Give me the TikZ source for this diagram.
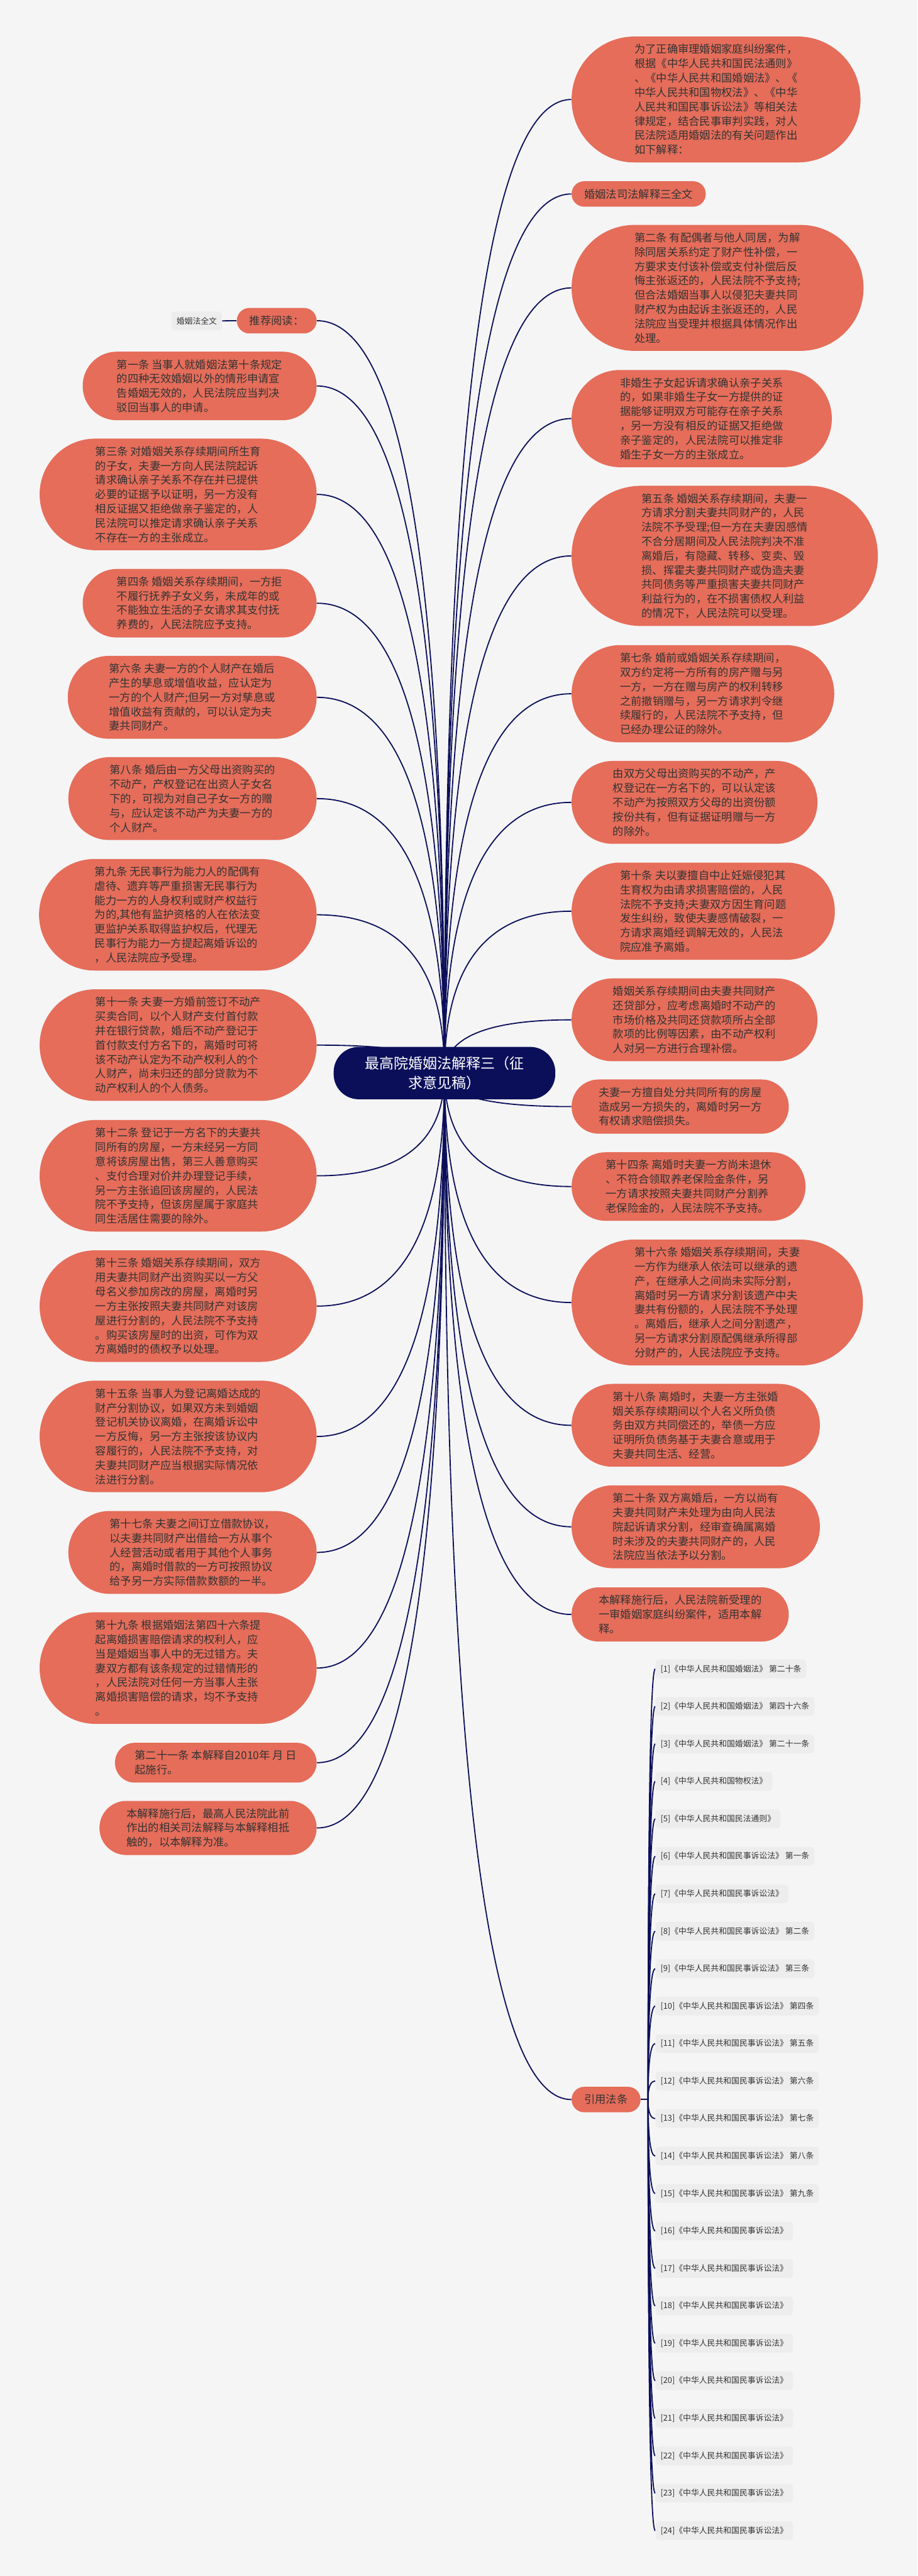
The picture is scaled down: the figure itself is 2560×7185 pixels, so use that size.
\documentclass[tikz,border=0pt]{standalone}
\usepackage{fontspec}
\setmainfont{Noto Sans CJK SC}
\usetikzlibrary{calc,backgrounds}
\definecolor{bgc}{HTML}{F5F5F5}
\definecolor{salmon}{HTML}{E56D5A}
\definecolor{navy}{HTML}{0B0F5A}
\definecolor{txt}{HTML}{333333}
\definecolor{citefill}{HTML}{EDEDED}
\newcommand\bodyfont{\fontsize{8.62pt}{11.38pt}\selectfont}
\newcommand\citefont{\fontsize{6.4pt}{8pt}\selectfont}
\newcommand\conlink[2]{\draw[conn] (#1.center) .. controls ($(#1.center)!0.667!(#1.center|-#2)$) and ($(#2)!0.667!(#1.center|-#2)$) .. (#2);}
\tikzset{
  leaf/.style={fill=salmon, text=txt, font=\bodyfont, align=left, inner ysep=0pt,
    minimum height={#1*0.4cm+0.31cm}, inner xsep={#1*0.2cm+0.155cm},
    rounded corners={#1*0.2cm+0.15cm}},
  rnode/.style={leaf=#1, anchor=west},
  lnode/.style={leaf=#1, anchor=east},
  cite/.style={fill=citefill, text=txt, font=\citefont, anchor=west, inner xsep=0.14cm,
    inner ysep=0pt, minimum height=0.52cm, rounded corners=0.1cm},
  lbl/.style={fill=citefill, text=txt, font=\citefont, minimum width=1.4cm,
    minimum height=0.52cm, rounded corners=0.08cm, inner sep=0pt},
  root/.style={fill=navy, text=white, font=\fontsize{11.5pt}{15.65pt}\selectfont, align=center,
    minimum width=6.18cm, minimum height=1.46cm, rounded corners=0.7cm, inner sep=0pt},
  conn/.style={draw=navy, line width=0.032cm}
}
\begin{document}
\begin{tikzpicture}[x=0.01cm, y=-0.01cm]
\begin{pgfonlayer}{background}
\fill[bgc] (0,0) rectangle (2560,7185);
\end{pgfonlayer}
\useasboundingbox (0,0) rectangle (2560,7185);

\node[root] (C) at (1240,2993) {最高院婚姻法解释三（征\\求意见稿）};

% right side
\node[rnode=8] (R1) at (1594,277.5) {为了正确审理婚姻家庭纠纷案件，\\根据《中华人民共和国民法通则》\\、《中华人民共和国婚姻法》、《\\中华人民共和国物权法》、《中华\\人民共和国民事诉讼法》等相关法\\律规定，结合民事审判实践，对人\\民法院适用婚姻法的有关问题作出\\如下解释：};
\node[rnode=1] (R2) at (1594,541) {婚姻法司法解释三全文};
\node[rnode=8] (R3) at (1594,803) {第二条 有配偶者与他人同居，为解\\除同居关系约定了财产性补偿，一\\方要求支付该补偿或支付补偿后反\\悔主张返还的，人民法院不予支持;\\但合法婚姻当事人以侵犯夫妻共同\\财产权为由起诉主张返还的，人民\\法院应当受理并根据具体情况作出\\处理。};
\node[rnode=6] (R4) at (1594,1167.5) {非婚生子女起诉请求确认亲子关系\\的，如果非婚生子女一方提供的证\\据能够证明双方可能存在亲子关系\\，另一方没有相反的证据又拒绝做\\亲子鉴定的，人民法院可以推定非\\婚生子女一方的主张成立。};
\node[rnode=9] (R5) at (1594,1550.5) {第五条 婚姻关系存续期间，夫妻一\\方请求分割夫妻共同财产的，人民\\法院不予受理;但一方在夫妻因感情\\不合分居期间及人民法院判决不准\\离婚后，有隐藏、转移、变卖、毁\\损、挥霍夫妻共同财产或伪造夫妻\\共同债务等严重损害夫妻共同财产\\利益行为的，在不损害债权人利益\\的情况下，人民法院可以受理。};
\node[rnode=6] (R6) at (1594,1935) {第七条 婚前或婚姻关系存续期间，\\双方约定将一方所有的房产赠与另\\一方，一方在赠与房产的权利转移\\之前撤销赠与，另一方请求判令继\\续履行的，人民法院不予支持，但\\已经办理公证的除外。};
\node[rnode=5] (R7) at (1594,2238) {由双方父母出资购买的不动产，产\\权登记在一方名下的，可以认定该\\不动产为按照双方父母的出资份额\\按份共有，但有证据证明赠与一方\\的除外。};
\node[rnode=6] (R8) at (1594,2541.5) {第十条 夫以妻擅自中止妊娠侵犯其\\生育权为由请求损害赔偿的，人民\\法院不予支持;夫妻双方因生育问题\\发生纠纷，致使夫妻感情破裂，一\\方请求离婚经调解无效的，人民法\\院应准予离婚。};
\node[rnode=5] (R9) at (1594,2844.5) {婚姻关系存续期间由夫妻共同财产\\还贷部分，应考虑离婚时不动产的\\市场价格及共同还贷款项所占全部\\款项的比例等因素，由不动产权利\\人对另一方进行合理补偿。};
\node[rnode=3] (R10) at (1594,3086.5) {夫妻一方擅自处分共同所有的房屋\\造成另一方损失的，离婚时另一方\\有权请求赔偿损失。};
\node[rnode=4] (R11) at (1594,3309.5) {第十四条 离婚时夫妻一方尚未退休\\、不符合领取养老保险金条件，另\\一方请求按照夫妻共同财产分割养\\老保险金的，人民法院不予支持。};
\node[rnode=8] (R12) at (1594,3633) {第十六条 婚姻关系存续期间，夫妻\\一方作为继承人依法可以继承的遗\\产，在继承人之间尚未实际分割，\\离婚时另一方请求分割该遗产中夫\\妻共有份额的，人民法院不予处理\\。离婚后，继承人之间分割遗产，\\另一方请求分割原配偶继承所得部\\分财产的，人民法院应予支持。};
\node[rnode=5] (R13) at (1594,3975.5) {第十八条 离婚时，夫妻一方主张婚\\姻关系存续期间以个人名义所负债\\务由双方共同偿还的，举债一方应\\证明所负债务基于夫妻合意或用于\\夫妻共同生活、经营。};
\node[rnode=5] (R14) at (1594,4258.5) {第二十条 双方离婚后，一方以尚有\\夫妻共同财产未处理为由向人民法\\院起诉请求分割，经审查确属离婚\\时未涉及的夫妻共同财产的，人民\\法院应当依法予以分割。};
\node[rnode=3] (R15) at (1594,4503) {本解释施行后，人民法院新受理的\\一审婚姻家庭纠纷案件，适用本解\\释。};
\node[rnode=1] (R16) at (1594,5856) {引用法条};

% left side
\node[lnode=1] (L0) at (884,894.5) {推荐阅读：};
\node[lbl] (W) at (549,895) {婚姻法全文};
\node[lnode=4] (L1) at (884,1076.5) {第一条 当事人就婚姻法第十条规定\\的四种无效婚姻以外的情形申请宣\\告婚姻无效的，人民法院应当判决\\驳回当事人的申请。};
\node[lnode=7] (L2) at (884,1379) {第三条 对婚姻关系存续期间所生育\\的子女，夫妻一方向人民法院起诉\\请求确认亲子关系不存在并已提供\\必要的证据予以证明，另一方没有\\相反证据又拒绝做亲子鉴定的，人\\民法院可以推定请求确认亲子关系\\不存在一方的主张成立。};
\node[lnode=4] (L3) at (884,1682.5) {第四条 婚姻关系存续期间，一方拒\\不履行抚养子女义务，未成年的或\\不能独立生活的子女请求其支付抚\\养费的，人民法院应予支持。};
\node[lnode=5] (L4) at (884,1945) {第六条 夫妻一方的个人财产在婚后\\产生的孳息或增值收益，应认定为\\一方的个人财产;但另一方对孳息或\\增值收益有贡献的，可以认定为夫\\妻共同财产。};
\node[lnode=5] (L5) at (884,2227.5) {第八条 婚后由一方父母出资购买的\\不动产，产权登记在出资人子女名\\下的，可视为对自己子女一方的赠\\与，应认定该不动产为夫妻一方的\\个人财产。};
\node[lnode=7] (L6) at (884,2551.5) {第九条 无民事行为能力人的配偶有\\虐待、遗弃等严重损害无民事行为\\能力一方的人身权利或财产权益行\\为的,其他有监护资格的人在依法变\\更监护关系取得监护权后，代理无\\民事行为能力一方提起离婚诉讼的\\，人民法院应予受理。};
\node[lnode=7] (L7) at (884,2915) {第十一条 夫妻一方婚前签订不动产\\买卖合同，以个人财产支付首付款\\并在银行贷款，婚后不动产登记于\\首付款支付方名下的，离婚时可将\\该不动产认定为不动产权利人的个\\人财产，尚未归还的部分贷款为不\\动产权利人的个人债务。};
\node[lnode=7] (L8) at (884,3279.5) {第十二条 登记于一方名下的夫妻共\\同所有的房屋，一方未经另一方同\\意将该房屋出售，第三人善意购买\\、支付合理对价并办理登记手续，\\另一方主张追回该房屋的，人民法\\院不予支持，但该房屋属于家庭共\\同生活居住需要的除外。};
\node[lnode=7] (L9) at (884,3643) {第十三条 婚姻关系存续期间，双方\\用夫妻共同财产出资购买以一方父\\母名义参加房改的房屋，离婚时另\\一方主张按照夫妻共同财产对该房\\屋进行分割的，人民法院不予支持\\。购买该房屋时的出资，可作为双\\方离婚时的债权予以处理。};
\node[lnode=7] (L10) at (884,4006.5) {第十五条 当事人为登记离婚达成的\\财产分割协议，如果双方未到婚姻\\登记机关协议离婚，在离婚诉讼中\\一方反悔，另一方主张按该协议内\\容履行的，人民法院不予支持，对\\夫妻共同财产应当根据实际情况依\\法进行分割。};
\node[lnode=5] (L11) at (884,4330) {第十七条 夫妻之间订立借款协议，\\以夫妻共同财产出借给一方从事个\\人经营活动或者用于其他个人事务\\的，离婚时借款的一方可按照协议\\给予另一方实际借款数额的一半。};
\node[lnode=7] (L12) at (884,4652.5) {第十九条 根据婚姻法第四十六条提\\起离婚损害赔偿请求的权利人，应\\当是婚姻当事人中的无过错方。夫\\妻双方都有该条规定的过错情形的\\，人民法院对任何一方当事人主张\\离婚损害赔偿的请求，均不予支持\\。};
\node[lnode=2] (L13) at (884,4916.5) {第二十一条 本解释自2010年 月 日\\起施行。};
\node[lnode=3] (L14) at (884,5098.5) {本解释施行后，最高人民法院此前\\作出的相关司法解释与本解释相抵\\触的，以本解释为准。};

% citations
\foreach \t [count=\i] in {
 {《中华人民共和国婚姻法》 第二十条},
 {《中华人民共和国婚姻法》 第四十六条},
 {《中华人民共和国婚姻法》 第二十一条},
 {《中华人民共和国物权法》},
 {《中华人民共和国民法通则》},
 {《中华人民共和国民事诉讼法》 第一条},
 {《中华人民共和国民事诉讼法》},
 {《中华人民共和国民事诉讼法》 第二条},
 {《中华人民共和国民事诉讼法》 第三条},
 {《中华人民共和国民事诉讼法》 第四条},
 {《中华人民共和国民事诉讼法》 第五条},
 {《中华人民共和国民事诉讼法》 第六条},
 {《中华人民共和国民事诉讼法》 第七条},
 {《中华人民共和国民事诉讼法》 第八条},
 {《中华人民共和国民事诉讼法》 第九条},
 {《中华人民共和国民事诉讼法》},
 {《中华人民共和国民事诉讼法》},
 {《中华人民共和国民事诉讼法》},
 {《中华人民共和国民事诉讼法》},
 {《中华人民共和国民事诉讼法》},
 {《中华人民共和国民事诉讼法》},
 {《中华人民共和国民事诉讼法》},
 {《中华人民共和国民事诉讼法》},
 {《中华人民共和国民事诉讼法》}}
{\node[cite] (Q\i) at (1828,{4655+104.5*(\i-1)}) {[\i]\t};}

\coordinate (T) at (1808,5856);

\begin{pgfonlayer}{background}
\foreach \n in {R1,R2,R3,R4,R5,R6,R7,R8,R9,R10,R11,R12,R13,R14,R15,R16} {\conlink{C}{\n.west}}
\foreach \n in {L0,L1,L2,L3,L4,L5,L6,L7,L8,L9,L10,L11,L12,L13,L14} {\conlink{C}{\n.east}}
\draw[conn] (W.east) -- (L0.west);
\draw[conn] (R16.east) -- (T);
\foreach \i in {1,...,24} {\conlink{T}{Q\i.west}}
\end{pgfonlayer}
\end{tikzpicture}
\end{document}
